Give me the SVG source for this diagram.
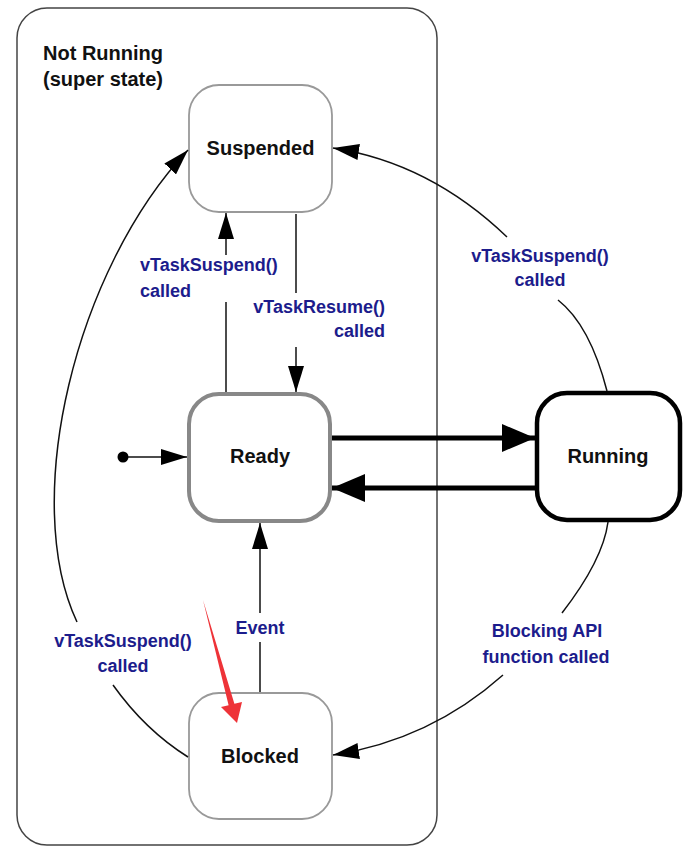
<svg xmlns="http://www.w3.org/2000/svg" width="689" height="855" viewBox="0 0 689 855">
<style>
.node{fill:#fff;}
.thin{fill:none;stroke:#111;stroke-width:1.5;}
.thick{fill:none;stroke:#000;stroke-width:5;}
.nlabel{font-family:"Liberation Sans",Arial,sans-serif;font-weight:bold;font-size:20px;fill:#111;text-anchor:middle;}
.tlabel{font-family:"Liberation Sans",Arial,sans-serif;font-weight:bold;font-size:18px;fill:#1c1c8c;}
</style>
<defs>
<marker id="ah" viewBox="0 0 26 16" refX="26" refY="8" markerWidth="26" markerHeight="16" markerUnits="userSpaceOnUse" orient="auto">
<path d="M0,0 L26,8 L0,16 Z" fill="#000"/>
</marker>
<marker id="ahBig" viewBox="0 0 33 28" refX="33" refY="14" markerWidth="33" markerHeight="28" markerUnits="userSpaceOnUse" orient="auto">
<path d="M0,0 L33,14 L0,28 Z" fill="#000"/>
</marker>
</defs>
<rect width="689" height="855" fill="#fff"/>

<g id="superstate">
<rect x="17" y="8" width="420" height="837" rx="30" ry="30" fill="none" stroke="#444" stroke-width="1.5"/>
<text x="43" y="60" class="nlabel" style="text-anchor:start">Not Running</text>
<text x="43" y="86" class="nlabel" style="text-anchor:start">(super state)</text>
</g>

<g id="suspended">
<rect x="189" y="85" width="143" height="127" rx="30" ry="30" class="node" stroke="#999" stroke-width="1.8"/>
<text x="260.5" y="155" class="nlabel">Suspended</text>
</g>

<g id="ready">
<rect x="189" y="394" width="141" height="127" rx="30" ry="30" class="node" stroke="#888" stroke-width="4"/>
<text x="260" y="463" class="nlabel">Ready</text>
</g>

<g id="running">
<rect x="537" y="393" width="143" height="127" rx="30" ry="30" class="node" stroke="#000" stroke-width="4.5"/>
<text x="608" y="463" class="nlabel">Running</text>
</g>

<g id="blocked">
<rect x="189" y="693" width="143" height="126" rx="30" ry="30" class="node" stroke="#999" stroke-width="1.8"/>
<text x="260" y="763" class="nlabel">Blocked</text>
</g>

<g id="initial">
<circle cx="123" cy="457" r="5.5" fill="#000"/>
</g>

<g id="connectors">
<path class="thin" d="M128,457 L187,457" marker-end="url(#ah)"/>
<path class="thick" d="M332,438 L535,438" marker-end="url(#ahBig)"/>
<path class="thick" d="M535,488 L332,488" marker-end="url(#ahBig)"/>
<path class="thin" d="M226,392 L226,302"/>
<path class="thin" d="M226,255 L226,213" marker-end="url(#ah)"/>
<path class="thin" d="M296,214 L296,293"/>
<path class="thin" d="M296,347 L296,392" marker-end="url(#ah)"/>
<path class="thin" d="M260,692 L260,642"/>
<path class="thin" d="M260,613 L260,523" marker-end="url(#ah)"/>
<path class="thin" d="M607,391 Q590,325 558,300"/>
<path class="thin" d="M507,237 Q430,163 333,148" marker-end="url(#ah)"/>
<path class="thin" d="M608,522 Q603,560 562,613"/>
<path class="thin" d="M503,675 Q430,740 333,755" marker-end="url(#ah)"/>
<path class="thin" d="M188,757 Q145,730 113,685"/>
<path class="thin" d="M77,622 C20,500 75,270 188,150" marker-end="url(#ah)"/>
</g>

<g id="labels">
<text x="140" y="271" class="tlabel">vTaskSuspend()</text>
<text x="140" y="297" class="tlabel">called</text>
<text x="385" y="313" class="tlabel" text-anchor="end">vTaskResume()</text>
<text x="385" y="337" class="tlabel" text-anchor="end">called</text>
<text x="540" y="262" class="tlabel" text-anchor="middle">vTaskSuspend()</text>
<text x="540" y="286" class="tlabel" text-anchor="middle">called</text>
<text x="123" y="647" class="tlabel" text-anchor="middle">vTaskSuspend()</text>
<text x="123" y="672" class="tlabel" text-anchor="middle">called</text>
<text x="260" y="634" class="tlabel" text-anchor="middle">Event</text>
<text x="547" y="637" class="tlabel" text-anchor="middle">Blocking API</text>
<text x="546" y="663" class="tlabel" text-anchor="middle">function called</text>
</g>

<g id="annotation">
<polygon points="203,600 234.4,703.7 242,702 237,723 221,707 228.6,705.3" fill="#ee3338"/>
</g>
</svg>
